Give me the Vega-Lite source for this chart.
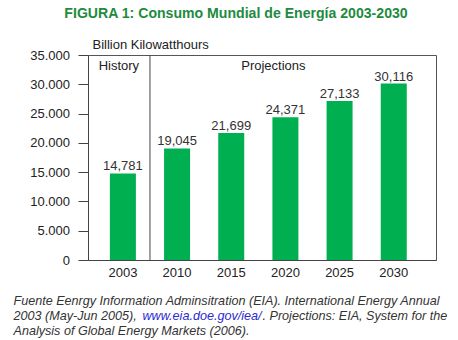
{
  "$schema": "https://vega.github.io/schema/vega-lite/v6.json",
  "width": 348,
  "height": 205,
  "autosize": {"type": "none"},
  "padding": {"left": 88, "top": 55, "right": 22, "bottom": 80},
  "title": {
    "text": "FIGURA 1: Consumo Mundial de Energía 2003-2030",
    "anchor": "middle",
    "dx": -26,
    "offset": 17,
    "font": "Liberation Sans",
    "fontSize": 14.1,
    "fontWeight": "bold",
    "color": "#1e8b3e"
  },
  "config": {
    "font": "Liberation Sans",
    "view": {"stroke": "#555", "strokeWidth": 1}
  },
  "datasets": {
    "energy": [
      {"year": "2003", "value": 14781},
      {"year": "2010", "value": 19045},
      {"year": "2015", "value": 21699},
      {"year": "2020", "value": 24371},
      {"year": "2025", "value": 27133},
      {"year": "2030", "value": 30116}
    ],
    "history": [{"year": "2003", "label": "History"}],
    "projections": [{"year": "2020", "label": "Projections"}],
    "divider": [{"year": "2010"}]
  },
  "resolve": {"axis": {"x": "independent", "y": "independent"}},
  "layer": [
    {
      "data": {"name": "energy"},
      "mark": {"type": "bar", "size": 26, "color": "#00b050"},
      "encoding": {
        "x": {
          "field": "year",
          "type": "ordinal",
          "scale": {
            "domain": ["2003", "2010", "2015", "2020", "2025", "2030"],
            "paddingInner": 0,
            "paddingOuter": 0.212,
            "align": 0.34
          },
          "axis": {
            "orient": "bottom",
            "title": [
              "Fuente Eenrgy Information Adminsitration (EIA). International Energy Annual",
              "2003 (May-Jun 2005),",
              "Analysis of Global Energy Markets (2006)."
            ],
            "titleX": -75,
            "titleY": 44,
            "titleAlign": "left",
            "titleBaseline": "alphabetic",
            "titleFont": "Liberation Sans",
            "titleFontSize": 12.6,
            "titleFontStyle": "italic",
            "titleFontWeight": "normal",
            "titleColor": "#333",
            "titleLineHeight": 15,
            "labelAngle": 0,
            "labelFont": "Liberation Sans",
            "labelFontSize": 13,
            "labelColor": "#222",
            "labelPadding": 6,
            "ticks": false,
            "tickSize": 0,
            "domainColor": "#444",
            "grid": false
          }
        },
        "y": {
          "field": "value",
          "type": "quantitative",
          "scale": {"domain": [0, 35000], "nice": false},
          "axis": {
            "orient": "left",
            "values": [0, 5000, 10000, 15000, 20000, 25000, 30000, 35000],
            "labelExpr": "replace(format(datum.value, ','), ',', '.')",
            "labelOverlap": false,
            "labelFlush": false,
            "title": "Billion Kilowatthours",
            "titleAngle": 0,
            "titleAlign": "left",
            "titleBaseline": "alphabetic",
            "titleX": 4,
            "titleY": -7,
            "titleFont": "Liberation Sans",
            "titleFontSize": 13,
            "titleFontWeight": "normal",
            "titleColor": "#222",
            "tickSize": 10,
            "tickColor": "#444",
            "domainColor": "#444",
            "labelPadding": 8.5,
            "labelFont": "Liberation Sans",
            "labelFontSize": 13,
            "labelColor": "#222",
            "grid": false
          }
        }
      }
    },
    {
      "data": {"name": "energy"},
      "mark": {"type": "text", "dy": -3, "baseline": "alphabetic", "fontSize": 13, "color": "#333", "font": "Liberation Sans"},
      "encoding": {
        "x": {"field": "year", "type": "ordinal", "axis": null},
        "y": {"field": "value", "type": "quantitative", "axis": null},
        "text": {"field": "value", "type": "quantitative", "format": ","}
      }
    },
    {
      "data": {"name": "history"},
      "mark": {"type": "text", "dx": -4, "dy": 15, "baseline": "alphabetic", "fontSize": 13, "color": "#222", "font": "Liberation Sans"},
      "encoding": {
        "x": {"field": "year", "type": "ordinal", "axis": null},
        "y": {"datum": 35000, "type": "quantitative", "axis": null},
        "text": {"field": "label"}
      }
    },
    {
      "data": {"name": "projections"},
      "mark": {"type": "text", "dx": -12, "dy": 15, "baseline": "alphabetic", "fontSize": 13, "color": "#222", "font": "Liberation Sans"},
      "encoding": {
        "x": {"field": "year", "type": "ordinal", "axis": null},
        "y": {"datum": 35000, "type": "quantitative", "axis": null},
        "text": {"field": "label"}
      }
    },
    {
      "data": {"name": "divider"},
      "mark": {"type": "rule", "color": "#444", "strokeWidth": 1},
      "encoding": {
        "x": {
          "field": "year",
          "type": "ordinal",
          "bandPosition": 0,
          "axis": {
            "orient": "top",
            "domain": false,
            "ticks": false,
            "labels": false,
            "grid": false,
            "title": "www.eia.doe.gov/iea/",
            "titleX": 54,
            "titleY": 264,
            "titleAlign": "left",
            "titleBaseline": "alphabetic",
            "titleFont": "Liberation Sans",
            "titleFontSize": 12.6,
            "titleFontStyle": "italic",
            "titleFontWeight": "normal",
            "titleColor": "#2b2bd0"
          }
        },
        "y": {
          "datum": 0,
          "type": "quantitative",
          "axis": {
            "orient": "right",
            "domain": false,
            "ticks": false,
            "labels": false,
            "grid": false,
            "title": ". Projections: EIA, System for the",
            "titleAngle": 0,
            "titleX": -174,
            "titleY": 264,
            "titleAlign": "left",
            "titleBaseline": "alphabetic",
            "titleFont": "Liberation Sans",
            "titleFontSize": 12.6,
            "titleFontStyle": "italic",
            "titleFontWeight": "normal",
            "titleColor": "#333"
          }
        },
        "y2": {"datum": 35000}
      }
    }
  ]
}
